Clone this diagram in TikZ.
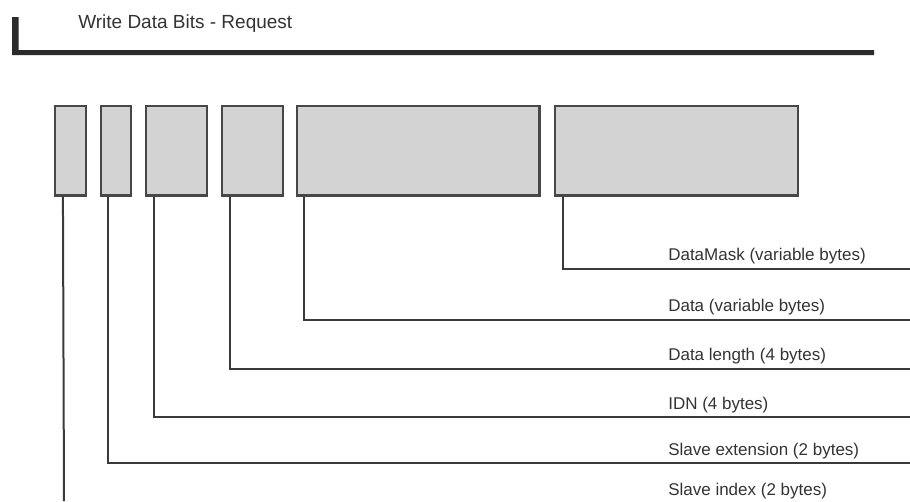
\documentclass[tikz,border=0pt]{standalone}
\usepackage{fontspec}
\setmainfont{Liberation Sans}
\definecolor{inkdark}{HTML}{2B2B2B}
\definecolor{inkline}{HTML}{3A3A3A}
\definecolor{boxfill}{HTML}{D3D3D3}
\definecolor{boxedge}{HTML}{474747}
\definecolor{txt}{HTML}{333333}
\begin{document}
\begin{tikzpicture}[x=0.75pt,y=-0.75pt,
  fieldbox/.style={draw=boxedge,fill=boxfill,line width=1.6pt,inner sep=0pt,
    minimum height=89.5*0.75pt},
  conn/.style={draw=inkline,line width=1.5pt},
  lbl/.style={anchor=base west,inner sep=0pt,text=txt,font=\fontsize{12.75pt}{15pt}\selectfont},
  titletext/.style={anchor=base west,inner sep=0pt,text=txt,font=\fontsize{14.25pt}{17pt}\selectfont},
  titlebar/.style={fill=inkdark}]
\useasboundingbox (0,0) rectangle (910,501);

% heading and its L-shaped bar (upright part a little heavier)
\node[titletext] (title) at (78,28) {Write Data Bits - Request};
\coordinate (barTop) at (12,17);
\coordinate (barEnd) at (874,55);
\fill[titlebar] (barTop) -- (18.5,17) -- (18.5,50.2) -- (874,50.2)
  -- (barEnd) -- (12,55) -- cycle;

% request fields
\node[fieldbox,minimum width=31*0.75pt]    (b1) at (70.5,150.8) {};
\node[fieldbox,minimum width=30.3*0.75pt]  (b2) at (115.9,150.8) {};
\node[fieldbox,minimum width=60.7*0.75pt]  (b3) at (176.3,150.8) {};
\node[fieldbox,minimum width=61*0.75pt]    (b4) at (252.8,150.8) {};
\node[fieldbox,minimum width=242.5*0.75pt] (b5) at (418.2,150.8) {};
\node[fieldbox,minimum width=242.7*0.75pt] (b6) at (676.3,150.8) {};

% right ends of the leader lines
\coordinate (e6) at (910,269);
\coordinate (e5) at (910,319.5);
\coordinate (e4) at (910,368.5);
\coordinate (e3) at (910,417);
\coordinate (e2) at (910,463);
\coordinate (e1) at (64,501);

% leader lines
\draw[conn] ([xshift=9*0.75pt]b6.south west) |- (e6);
\draw[conn] ([xshift=8*0.75pt]b5.south west) |- (e5);
\draw[conn] ([xshift=8.5*0.75pt]b4.south west) |- (e4);
\draw[conn] ([xshift=9*0.75pt]b3.south west) |- (e3);
\draw[conn] ([xshift=8.5*0.75pt]b2.south west) |- (e2);
\draw[conn] ([xshift=9*0.75pt]b1.south west) -- (e1);

% field labels
\node[lbl] (l6) at (668,260.5) {DataMask (variable bytes)};
\node[lbl] (l5) at (668,311.5) {Data (variable bytes)};
\node[lbl] (l4) at (668,360.5) {Data length (4 bytes)};
\node[lbl] (l3) at (668,409) {IDN (4 bytes)};
\node[lbl] (l2) at (668,455) {Slave extension (2 bytes)};
\node[lbl] (l1) at (668,495) {Slave index (2 bytes)};
\end{tikzpicture}
\end{document}
